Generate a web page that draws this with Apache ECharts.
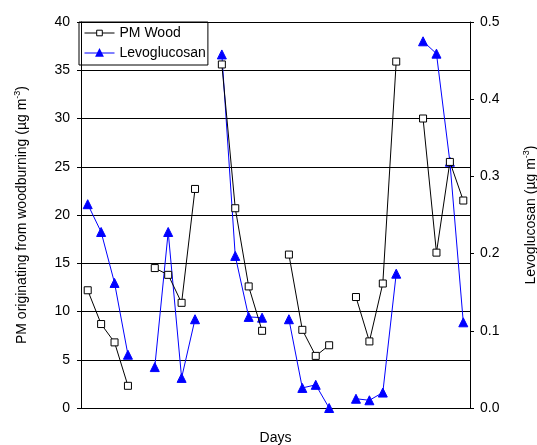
<!DOCTYPE html>
<html>
<head>
<meta charset="utf-8">
<script src="https://cdn.jsdelivr.net/npm/echarts@6/dist/echarts.min.js"></script>
<style>html,body{margin:0;padding:0;background:#fff}#c{width:537px;height:445px}</style>
</head>
<body>
<div id="c"></div>
<script>
var days = [];
for (var i = 1; i <= 29; i++) days.push(String(i));
var pmWood = [12.2, 8.7, 6.8, 2.3, null, 14.5, 13.8, 10.9, 22.7, null,
  35.6, 20.7, 12.6, 8.0, null, 15.9, 8.1, 5.4, 6.5, null,
  11.5, 6.9, 12.9, 35.9, null, 30.0, 16.1, 25.5, 21.5];
var levoglucosan = [0.264, 0.228, 0.162, 0.069, null, 0.053, 0.228, 0.039, 0.115, null,
  0.458, 0.197, 0.118, 0.117, null, 0.115, 0.026, 0.030, 0.000, null,
  0.012, 0.010, 0.020, 0.174, null, 0.475, 0.459, 0.319, 0.111];
var leftTicks = {min: 0, max: 40, interval: 5};
var rightTicks = {min: 0, max: 0.5, interval: 0.1};

var font = 'Liberation Sans, Arial, sans-serif';
var chart = echarts.init(document.getElementById('c'));
var rich = {
  a: {fontFamily: font, fontSize: 14, color: '#000', verticalAlign: 'bottom', lineHeight: 16},
  s: {fontFamily: font, fontSize: 9, color: '#000', verticalAlign: 'bottom', lineHeight: 16, padding: [0, 0, 7, 0]}
};
chart.setOption({
  animation: false,
  grid: {left: 81, right: 67, top: 22, bottom: 37, containLabel: false, outerBoundsMode: 'none'},
  legend: {
    left: 79, top: 22, orient: 'vertical',
    borderColor: '#000', borderWidth: 1,
    padding: [4, 2, 5, 5], itemGap: 6,
    itemWidth: 30, itemHeight: 7,
    textStyle: {fontFamily: font, fontSize: 14, color: '#000'},
    data: [
      {name: 'PM Wood', itemStyle: {color: '#fff', borderColor: '#000', borderWidth: 1}, lineStyle: {width: 1, color: '#000'}},
      {name: 'Levoglucosan', itemStyle: {color: '#0000ff'}, lineStyle: {width: 1, color: '#0000ff'}}
    ]
  },
  xAxis: {
    type: 'category', data: days, boundaryGap: true,
    name: 'Days', nameLocation: 'middle', nameGap: 23,
    nameTextStyle: {fontFamily: font, fontSize: 14, color: '#000'},
    axisLine: {show: true, lineStyle: {color: '#000', width: 1}},
    axisTick: {show: false}, axisLabel: {show: false}
  },
  yAxis: [{
    type: 'value', min: leftTicks.min, max: leftTicks.max, interval: leftTicks.interval,
    position: 'left',
    name: '{a|PM originating from woodburning (µg m}{s|-3}{a|)}',
    nameLocation: 'middle', nameGap: 52, nameRotate: 90,
    nameTextStyle: {rich: rich},
    axisLine: {show: true, lineStyle: {color: '#000', width: 1}},
    axisTick: {show: true, length: 4, inside: false, lineStyle: {color: '#000'}},
    axisLabel: {fontFamily: font, fontSize: 14, color: '#000', margin: 11},
    splitLine: {show: true, lineStyle: {color: '#000', width: 1}}
  }, {
    type: 'value', min: rightTicks.min, max: rightTicks.max, interval: rightTicks.interval,
    position: 'right',
    name: '{a|Levoglucosan (µg m}{s|-3}{a|)}',
    nameLocation: 'middle', nameGap: 52, nameRotate: 90,
    nameTextStyle: {rich: rich},
    axisLine: {show: true, lineStyle: {color: '#000', width: 1}},
    axisTick: {show: true, length: 4, inside: false, lineStyle: {color: '#000'}},
    axisLabel: {fontFamily: font, fontSize: 14, color: '#000', margin: 10,
      formatter: function (v) { return v.toFixed(1); }},
    splitLine: {show: false}
  }],
  series: [{
    name: 'PM Wood', type: 'line', yAxisIndex: 0, data: pmWood,
    connectNulls: false, symbol: 'rect', symbolSize: 7, showAllSymbol: true,
    lineStyle: {color: '#000', width: 1},
    itemStyle: {color: '#fff', borderColor: '#000', borderWidth: 1},
    z: 3
  }, {
    name: 'Levoglucosan', type: 'line', yAxisIndex: 1, data: levoglucosan,
    connectNulls: false, symbol: 'triangle', symbolSize: 9, showAllSymbol: true,
    lineStyle: {color: '#0000ff', width: 1},
    itemStyle: {color: '#0000ff', borderColor: '#0000ff', borderWidth: 1},
    z: 2
  }]
});
</script>
</body>
</html>
